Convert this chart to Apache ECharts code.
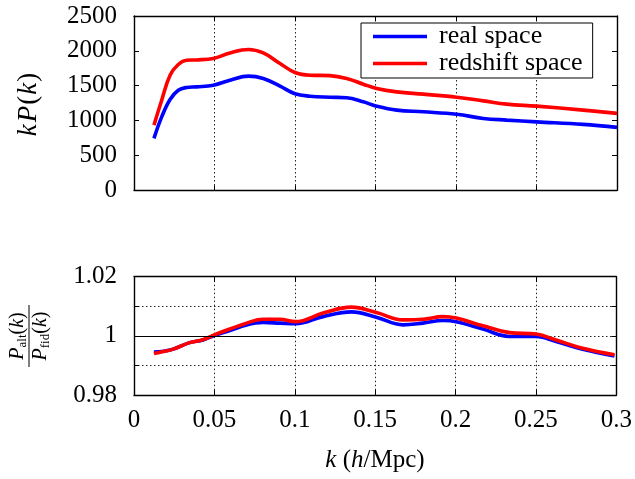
<!DOCTYPE html>
<html>
<head>
<meta charset="utf-8">
<script src="https://cdn.jsdelivr.net/npm/echarts@6/dist/echarts.min.js"></script>
<style>
  html, body { margin: 0; padding: 0; background: #fff; }
  #chart { width: 635px; height: 479px; }
</style>
</head>
<body>
<div id="chart"></div>
<script>
// Wavenumbers (h/Mpc) sampled for the power spectrum panel
const kTop = [0.0124, 0.0172, 0.0224, 0.0275, 0.0327, 0.0389, 0.0493, 0.0596, 0.0710, 0.0803,
              0.0907, 0.1000, 0.1093, 0.1217, 0.1321, 0.1424, 0.1507, 0.1632, 0.1797, 0.2004,
              0.2170, 0.2315, 0.2501, 0.2790, 0.3000];
// k P(k) in real space
const realKP = [745, 1054, 1303, 1436, 1475, 1484, 1508, 1579, 1637, 1604,
                1494, 1385, 1350, 1335, 1328, 1269, 1207, 1150, 1126, 1090,
                1031, 1007, 982, 945, 902];
// k P(k) in redshift space
const redshiftKP = [935, 1292, 1651, 1804, 1866, 1870, 1892, 1970, 2019, 1970,
                    1818, 1690, 1651, 1645, 1604, 1522, 1461, 1412, 1379, 1335,
                    1283, 1236, 1207, 1150, 1103];

// Wavenumbers sampled for the ratio panel
const kRatio = [0.0124, 0.0172, 0.0244, 0.0346, 0.0429, 0.0503, 0.0596, 0.0700, 0.0803, 0.0907,
                0.1004, 0.1176, 0.1352, 0.1507, 0.1673, 0.1797, 0.1921, 0.2004, 0.2170, 0.2335,
                0.2501, 0.2625, 0.2790, 0.2988];
// P_alt / P_fid in real space
const realRatio = [0.9945, 0.9947, 0.9955, 0.9977, 0.9986, 1.0002, 1.0018, 1.0037, 1.0045, 1.0043,
                   1.0041, 1.0065, 1.0081, 1.0063, 1.0037, 1.0043, 1.0052, 1.0048, 1.0023, 0.9998,
                   0.9998, 0.9981, 0.9955, 0.9932];
// P_alt / P_fid in redshift space
const redshiftRatio = [0.9940, 0.9946, 0.9955, 0.9977, 0.9987, 1.0004, 1.0023, 1.0043, 1.0056, 1.0056,
                       1.0048, 1.0077, 1.0097, 1.0079, 1.0054, 1.0056, 1.0065, 1.0060, 1.0034, 1.0011,
                       1.0006, 0.9986, 0.9958, 0.9936];

const xTicks = { min: 0, max: 0.3, interval: 0.05 };
const topTicks = { min: 0, max: 2500, interval: 500 };
const ratioTicks = { min: 0.98, max: 1.02, interval: 0.01 };

const FONT = '"Liberation Serif", "DejaVu Serif", serif';
const zip = (xs, ys) => xs.map((x, i) => [x, ys[i]]);

const frameLine = { show: true, onZero: false, lineStyle: { color: '#000', width: 1.4 } };
const innerTick = { show: true, inside: true, length: 5, lineStyle: { color: '#000', width: 1 } };
const dotted = { show: true, lineStyle: { color: '#222', type: [1.5, 2.5], width: 1 } };
const LINE_W = 3.6;

function xAxisPair(gridIndex, withLabels) {
  return [
    Object.assign({}, xTicks, {
      type: 'value', gridIndex, position: 'bottom',
      axisLine: frameLine, axisTick: innerTick,
      axisLabel: { show: withLabels, color: '#000', fontFamily: FONT, fontSize: 25, margin: 13 },
      splitLine: dotted
    }),
    Object.assign({}, xTicks, {
      type: 'value', gridIndex, position: 'top',
      axisLine: frameLine, axisTick: innerTick,
      axisLabel: { show: false }, splitLine: { show: false }
    })
  ];
}

const ratioLabel = v => {
  const r = Math.round(v * 100) / 100;
  if (Math.abs(r - 0.98) < 1e-6) return '0.98';
  if (Math.abs(r - 1.0) < 1e-6) return '1';
  if (Math.abs(r - 1.02) < 1e-6) return '1.02';
  return '';
};

const option = {
  animation: false,
  backgroundColor: '#fff',
  grid: [
    { left: 134, top: 16, width: 483, height: 174.3 },
    { left: 134, top: 276.7, width: 483, height: 118.3 }
  ],
  xAxis: [
    ...xAxisPair(0, false),
    ...xAxisPair(1, true)
  ],
  yAxis: [
    Object.assign({}, topTicks, {
      type: 'value', gridIndex: 0, position: 'left',
      axisLine: frameLine, axisTick: innerTick,
      axisLabel: { color: '#000', fontFamily: FONT, fontSize: 25, margin: 17, formatter: v => String(v) },
      splitLine: { show: false }
    }),
    Object.assign({}, topTicks, {
      type: 'value', gridIndex: 0, position: 'right',
      axisLine: frameLine, axisTick: innerTick,
      axisLabel: { show: false }, splitLine: { show: false }
    }),
    Object.assign({}, ratioTicks, {
      type: 'value', gridIndex: 1, position: 'left',
      axisLine: frameLine, axisTick: innerTick,
      axisLabel: { color: '#000', fontFamily: FONT, fontSize: 25, margin: 17, formatter: ratioLabel },
      splitLine: dotted
    }),
    Object.assign({}, ratioTicks, {
      type: 'value', gridIndex: 1, position: 'right',
      axisLine: frameLine, axisTick: innerTick,
      axisLabel: { show: false }, splitLine: { show: false }
    })
  ],
  legend: {
    data: ['real space', 'redshift space'],
    orient: 'vertical',
    left: 361, top: 23,
    padding: [0, 10, 1, 12],
    itemGap: 0,
    icon: 'rect',
    itemWidth: 54, itemHeight: 3.6,
    backgroundColor: '#fff',
    borderColor: '#000', borderWidth: 1,
    textStyle: { color: '#000', fontFamily: FONT, fontSize: 26, lineHeight: 27, padding: [0, 0, 0, 7] }
  },
  series: [
    {
      name: 'real space', type: 'line', xAxisIndex: 0, yAxisIndex: 0,
      data: zip(kTop, realKP), smooth: 0.4, symbol: 'none',
      lineStyle: { color: '#0000ff', width: LINE_W }, itemStyle: { color: '#0000ff' }, z: 3
    },
    {
      name: 'redshift space', type: 'line', xAxisIndex: 0, yAxisIndex: 0,
      data: zip(kTop, redshiftKP), smooth: 0.4, symbol: 'none',
      lineStyle: { color: '#ff0000', width: LINE_W }, itemStyle: { color: '#ff0000' }, z: 4
    },
    {
      name: 'real space', type: 'line', xAxisIndex: 2, yAxisIndex: 2,
      data: zip(kRatio, realRatio), smooth: 0.4, symbol: 'none',
      lineStyle: { color: '#0000ff', width: LINE_W }, itemStyle: { color: '#0000ff' }, z: 3,
      markLine: {
        silent: true, symbol: 'none', animation: false,
        label: { show: false },
        lineStyle: { color: '#000', type: 'solid', width: 1.2 },
        data: [[{ coord: [0, 1] }, { coord: [0.1, 1] }]]
      }
    },
    {
      name: 'redshift space', type: 'line', xAxisIndex: 2, yAxisIndex: 2,
      data: zip(kRatio, redshiftRatio), smooth: 0.4, symbol: 'none',
      lineStyle: { color: '#ff0000', width: LINE_W }, itemStyle: { color: '#ff0000' }, z: 4
    }
  ],
  graphic: [
    {
      type: 'text', x: 29, y: 104, rotation: Math.PI / 2,
      style: {
        text: '{i|k}{g| }{i|P}{r|(}{i|k}{r|)}', align: 'center', verticalAlign: 'middle',
        rich: {
          i: { fontFamily: FONT, fontStyle: 'italic', fontSize: 27, fill: '#000' },
          r: { fontFamily: FONT, fontSize: 27, fill: '#000', padding: [0, 1, 0, 1] },
          g: { fontFamily: FONT, fontSize: 8, fill: '#000' }
        }
      }
    },
    {
      type: 'group', x: 29, y: 336, rotation: Math.PI / 2,
      children: [
        {
          type: 'text', x: 0, y: -11,
          style: {
            text: '{i|P}{s|alt}{r|(}{i|k}{r|)}', align: 'center', verticalAlign: 'middle',
            rich: {
              i: { fontFamily: FONT, fontStyle: 'italic', fontSize: 20, fill: '#000' },
              r: { fontFamily: FONT, fontSize: 20, fill: '#000' },
              s: { fontFamily: FONT, fontSize: 13, fill: '#000', padding: [9, 0, 0, 0] }
            }
          }
        },
        {
          type: 'line', shape: { x1: -31, y1: 0, x2: 31, y2: 0 },
          style: { stroke: '#000', lineWidth: 1 }
        },
        {
          type: 'text', x: 0, y: 12,
          style: {
            text: '{i|P}{s|fid}{r|(}{i|k}{r|)}', align: 'center', verticalAlign: 'middle',
            rich: {
              i: { fontFamily: FONT, fontStyle: 'italic', fontSize: 20, fill: '#000' },
              r: { fontFamily: FONT, fontSize: 20, fill: '#000' },
              s: { fontFamily: FONT, fontSize: 13, fill: '#000', padding: [9, 0, 0, 0] }
            }
          }
        }
      ]
    },
    {
      type: 'text', x: 375, y: 460,
      style: {
        text: '{i|k}{r| (}{i|h}{r|/Mpc)}', align: 'center', verticalAlign: 'middle',
        rich: {
          i: { fontFamily: FONT, fontStyle: 'italic', fontSize: 25, fill: '#000' },
          r: { fontFamily: FONT, fontSize: 25, fill: '#000', padding: [0, 0, 0, 0] }
        }
      }
    }
  ]
};

const chart = echarts.init(document.getElementById('chart'), null, { renderer: 'canvas' });
chart.setOption(option);
</script>
</body>
</html>
